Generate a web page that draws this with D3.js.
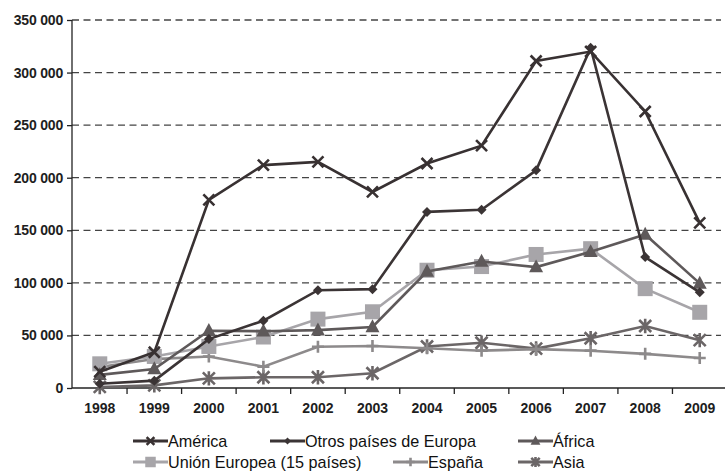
<!DOCTYPE html>
<html><head><meta charset="utf-8">
<script src="https://cdn.jsdelivr.net/npm/d3@7"></script>
<style>body{margin:0;background:#fff}svg{display:block}text{font-family:"Liberation Sans",Arial,sans-serif}</style>
</head><body><svg id="c" width="725" height="472"></svg>
<script>
const years = ["1998","1999","2000","2001","2002","2003","2004","2005","2006","2007","2008","2009"];
const america = [15500,34000,179000,212000,215000,186500,213500,230500,311000,320000,263000,157000];
const otrosEuropa = [4000,7000,46500,64000,93000,94000,167500,169500,207000,323500,124500,91000];
const africa = [12500,18000,54500,54000,55000,58000,110800,120300,115000,129500,146000,99500];
const ue15 = [23000,30000,39500,48500,65500,72500,112000,115500,127000,132500,94500,72000];
const espana = [20000,27500,30000,20300,39300,40000,37800,35500,37000,35500,32500,28500];
const asia = [1000,2500,9200,10200,10200,14000,39500,43000,37500,47300,59000,45500];
const yTicks = [0,50000,100000,150000,200000,250000,300000,350000];

const series = [
  {name:"Asia", values:asia, color:"#6b6667", marker:"asterisk"},
  {name:"España", values:espana, color:"#8d8a8b", marker:"plus"},
  {name:"Unión Europea (15 países)", values:ue15, color:"#a7a5a9", marker:"square"},
  {name:"África", values:africa, color:"#5e595a", marker:"triangle"},
  {name:"Otros países de Europa", values:otrosEuropa, color:"#3b3435", marker:"diamond"},
  {name:"América", values:america, color:"#383132", marker:"cross"}
];
const legendOrder = ["América","Otros países de Europa","África","Unión Europea (15 países)","España","Asia"];

const svg = d3.select("#c");
const x = d3.scaleBand().domain(years).range([72.5, 727]);
const y = d3.scaleLinear().domain([0,350000]).range([388, 20]);
const fmt = v => v===0 ? "0" : d3.format(",")(v).replace(/,/g, " ");

// gridlines
svg.append("g").selectAll("line").data(yTicks.filter(d=>d>0)).join("line")
  .attr("x1", 72).attr("x2", 721).attr("y1", d=>y(d)).attr("y2", d=>y(d))
  .attr("stroke", "#444").attr("stroke-width", 1.3).attr("stroke-dasharray", "7,4.5");

// y axis
const yAxis = svg.append("g").attr("transform","translate(72,0)")
  .call(d3.axisLeft(y).tickValues(yTicks).tickSize(5).tickFormat(fmt));
yAxis.select(".domain").attr("stroke","#222").attr("stroke-width",1.3).attr("d","M0,20V388");
yAxis.selectAll(".tick line").attr("stroke","#222").attr("stroke-width",1.3);
yAxis.selectAll("text").attr("font-size",14).attr("font-weight","bold").attr("fill","#1e1e1e").attr("x",-9).attr("letter-spacing",-0.2);

// x axis
const xAxis = svg.append("g").attr("transform","translate(0,388)")
  .call(d3.axisBottom(x).tickSize(0).tickPadding(15));
xAxis.select(".domain").attr("stroke","#222").attr("stroke-width",1.3).attr("d","M72,0H725");
xAxis.selectAll("text").attr("font-size",14).attr("font-weight","bold").attr("fill","#1e1e1e");
xAxis.append("g").selectAll("line").data(years.slice(1)).join("line")
  .attr("x1", d=>x(d)).attr("x2", d=>x(d)).attr("y1",0).attr("y2",6)
  .attr("stroke","#222").attr("stroke-width",1.3);

function drawMarker(g, type, color, s) {
  if (type==="cross") {
    g.append("path").attr("d",`M${-s},${-s}L${s},${s}M${-s},${s}L${s},${-s}`).attr("stroke",color).attr("stroke-width",2.6).attr("fill","none");
  } else if (type==="diamond") {
    g.append("path").attr("d",`M0,${-s}L${s},0L0,${s}L${-s},0Z`).attr("fill",color);
  } else if (type==="triangle") {
    g.append("path").attr("d",`M0,${-s*1.1}L${s},${s*0.75}L${-s},${s*0.75}Z`).attr("fill",color);
  } else if (type==="square") {
    g.append("rect").attr("x",-s).attr("y",-s).attr("width",2*s).attr("height",2*s).attr("fill",color);
  } else if (type==="plus") {
    g.append("path").attr("d",`M${-s},0L${s},0M0,${-s}L0,${s}`).attr("stroke",color).attr("stroke-width",2.6).attr("fill","none");
  } else if (type==="asterisk") {
    g.append("path").attr("d",`M${-s},${-s}L${s},${s}M${-s},${s}L${s},${-s}M0,${-s*1.2}L0,${s*1.2}`).attr("stroke",color).attr("stroke-width",2.6).attr("fill","none");
  }
}
const msize = {cross:5.5, diamond:5, triangle:7, square:7.5, plus:6, asterisk:6};

const line = d3.line().x((d,i)=>x(years[i])+x.bandwidth()/2).y(d=>y(d));
series.forEach(s => {
  const g = svg.append("g");
  g.append("path").attr("d", line(s.values)).attr("fill","none").attr("stroke", s.color).attr("stroke-width",2.6);
  s.values.forEach((v,i)=>{
    const m = g.append("g").attr("transform",`translate(${x(years[i])+x.bandwidth()/2},${y(v)})`);
    drawMarker(m, s.marker, s.color, msize[s.marker]);
  });
});

// legend
const legPos = [[133,441],[270,441],[518,441],[133,462],[393,462],[518,462]];
const lg = svg.append("g");
legendOrder.forEach((nm,i)=>{
  const s = series.find(d=>d.name===nm);
  const [lx,ly] = legPos[i];
  const g = lg.append("g");
  g.append("line").attr("x1",lx).attr("x2",lx+35).attr("y1",ly).attr("y2",ly).attr("stroke",s.color).attr("stroke-width",2.8);
  const m = g.append("g").attr("transform",`translate(${lx+17.5},${ly})`);
  drawMarker(m, s.marker, s.color, msize[s.marker]*0.7);
  g.append("text").attr("x",lx+35).attr("y",ly).attr("dy","0.35em").attr("font-size",16.2).attr("fill","#111").text(nm);
});
</script></body></html>
